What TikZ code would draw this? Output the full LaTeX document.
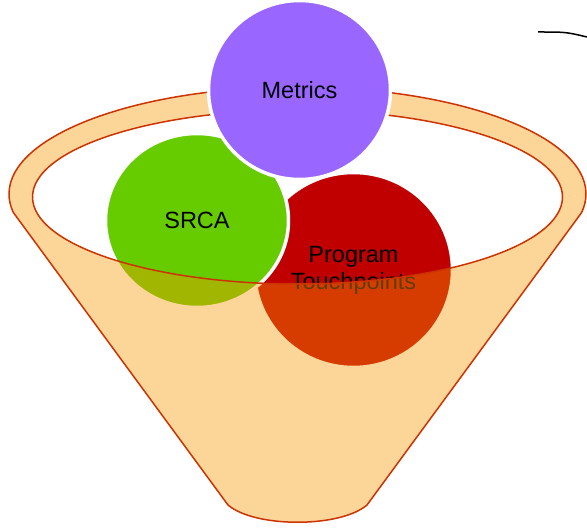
\documentclass[tikz,border=0pt]{standalone}
\usepackage{fontspec}
\setmainfont{Liberation Sans}
\usetikzlibrary{shapes.geometric}
\definecolor{funnelfill}{RGB}{248,150,0}
\definecolor{funnelline}{RGB}{204,51,0}
\definecolor{metricscol}{RGB}{153,102,255}
\definecolor{srcacol}{RGB}{102,204,0}
\definecolor{progcol}{RGB}{192,0,0}

\begin{document}
\begin{tikzpicture}[x=1pt, y=1pt,
  rim/.style={fill=funnelfill, fill opacity=.4},
  rimline/.style={draw=funnelline, line width=1.5pt},
  outer/.style={x radius=288.5pt, y radius=107pt},
  inner/.style={x radius=265pt, y radius=87pt},
  ball/.style={ellipse, draw=white, line width=3.5pt, inner sep=0pt,
    align=center, font=\fontsize{23.5}{27}\selectfont}]
  \useasboundingbox (0,0) rectangle (587,528);

  % back of the rim
  \path[rim] (586,334) arc[start angle=0, end angle=180, outer] -- (32.5,331)
    arc[start angle=180, end angle=0, inner] -- cycle;
  \draw[rimline] (586,334) arc[start angle=0, end angle=180, outer];
  \draw[rimline] (32.5,331) arc[start angle=180, end angle=0, inner];

  % the three balls
  \node[ball, fill=progcol, minimum width=198pt, minimum height=195pt] (prog) at (353.5,258) {Program\\Touchpoints};
  \node[ball, fill=srcacol, minimum width=183pt, minimum height=174pt] (srca) at (197,307.5) {SRCA};
  \node[ball, fill=metricscol, minimum width=182pt, minimum height=179pt] (metrics) at (299.5,438) {Metrics};

  % front of the funnel
  \path[rim] (9,334) arc[start angle=180, end angle=190, outer] -- (228,23)
    .. controls (255,0) and (340,0) .. (367,23) -- (581.6,315.4)
    arc[start angle=350, end angle=360, outer] -- (562.5,331)
    arc[start angle=0, end angle=-180, inner] -- cycle;
  \draw[rimline] (9,334) arc[start angle=180, end angle=190, outer] -- (228,23)
    .. controls (255,0) and (340,0) .. (367,23) -- (581.6,315.4)
    arc[start angle=350, end angle=360, outer];
  \draw[rimline] (562.5,331) arc[start angle=0, end angle=-180, inner];

  \coordinate (tail) at (538,496);
  \coordinate (tailend) at (587,491);
  \draw[line width=1.5pt] (tail) .. controls (566,496) .. (tailend);
\end{tikzpicture}
\end{document}
